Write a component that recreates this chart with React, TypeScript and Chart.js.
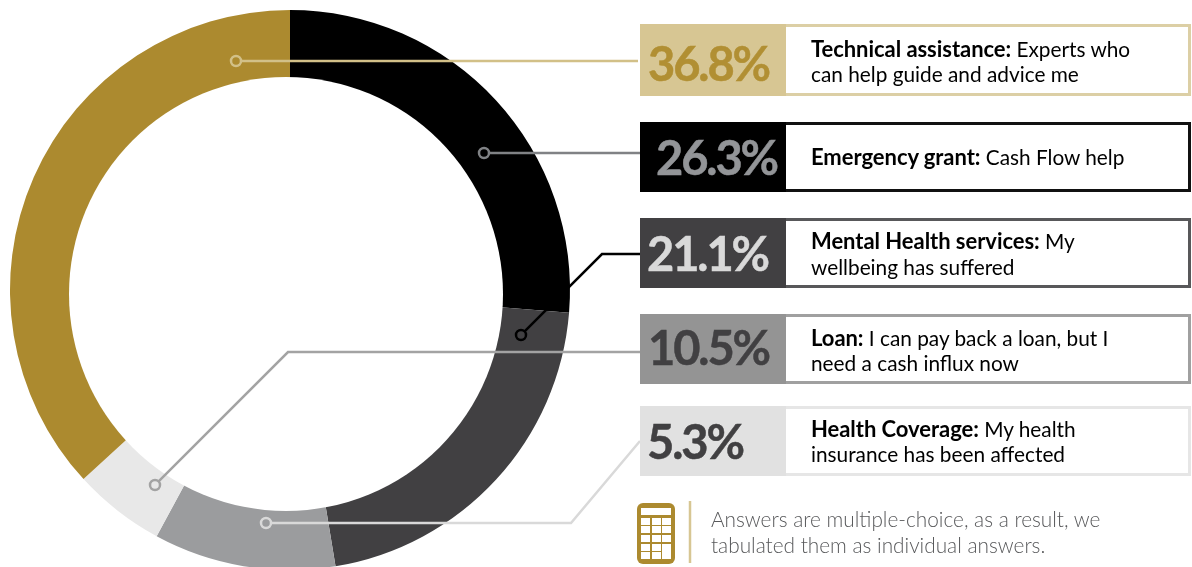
import React, { useEffect, useRef } from "react";
import { Chart, registerables } from "chart.js";

Chart.register(...registerables);

const categories = ["Emergency grant", "Mental Health services", "Loan", "Health Coverage", "Technical assistance"];
const values = [26.3, 21.1, 10.5, 5.3, 36.8];
const sliceColors = ["#000000", "#414042", "#9b9c9e", "#e8e8e8", "#ac8a2f"];

const cards = [
  { pct: "36.8%", bold: "Technical assistance:", rest: ["Experts who", "can help guide and advice me"], fill: "#d7c693", border: "#dccfa5", ink: "#b18f33", top: 24, h: 72, px: 8, pctTop: 33, textDy: 1, gap: 25 },
  { pct: "26.3%", bold: "Emergency grant:", rest: ["Cash Flow help"], fill: "#000000", border: "#111111", ink: "#939598", top: 122, h: 70, px: 16, pctTop: 127, textDy: -1, gap: 25 },
  { pct: "21.1%", bold: "Mental Health services:", rest: ["My", "wellbeing has suffered"], fill: "#414042", border: "#58585a", ink: "#d9d9d9", top: 218, h: 70, px: 7, pctTop: 223, textDy: 1, gap: 26 },
  { pct: "10.5%", bold: "Loan:", rest: ["I can pay back a loan, but I", "need a cash influx now"], fill: "#949494", border: "#a0a0a0", ink: "#414042", top: 314, h: 70, px: 8, pctTop: 317, textDy: 1, gap: 25 },
  { pct: "5.3%", bold: "Health Coverage:", rest: ["My health", "insurance has been affected"], fill: "#e1e1e1", border: "#e6e6e6", ink: "#414042", top: 406, h: 70, px: 7, pctTop: 411, textDy: 0, gap: 25 },
];
const noteLines = ["Answers are multiple-choice, as a result, we", "tabulated them as individual answers."];

const leaders = [
  { color: "#d2c088", pts: [[236, 61], [638, 61]] },
  { color: "#808285", pts: [[484, 153], [640, 153]] },
  { color: "#000000", pts: [[521, 335], [602, 254], [640, 254]] },
  { color: "#a3a3a3", pts: [[155, 485], [288, 352], [640, 352]] },
  { color: "#d9d9d9", pts: [[266, 523], [571, 523], [640, 441]] },
];

const innerDisk = { dx: -4, dy: 4, r: 217 };

const overlay = {
  id: "overlay",
  afterDatasetsDraw(chart: any) {
    const { ctx } = chart;
    const arc = chart.getDatasetMeta(0).data[0];
    ctx.save();
    ctx.fillStyle = "#ffffff";
    ctx.beginPath();
    ctx.arc(arc.x + innerDisk.dx, arc.y + innerDisk.dy, innerDisk.r, 0, Math.PI * 2);
    ctx.fill();

    ctx.lineWidth = 2.5;
    for (const l of leaders) {
      ctx.strokeStyle = l.color;
      const [sx, sy] = l.pts[0];
      const [nx, ny] = l.pts[1];
      const d = Math.hypot(nx - sx, ny - sy);
      ctx.beginPath();
      ctx.moveTo(sx + ((nx - sx) / d) * 5.5, sy + ((ny - sy) / d) * 5.5);
      for (const p of l.pts.slice(1)) ctx.lineTo(p[0], p[1]);
      ctx.stroke();
      ctx.beginPath();
      ctx.arc(sx, sy, 5, 0, Math.PI * 2);
      ctx.stroke();
    }

    // calculator icon and divider
    const gold = "#ac8a2f";
    ctx.fillStyle = gold;
    ctx.beginPath();
    ctx.roundRect(637, 503, 38, 61, 6);
    ctx.fill();
    ctx.fillStyle = "#ffffff";
    ctx.fillRect(641, 508, 30, 7);
    const colsX = [641, 652, 662];
    const colW = [9, 9, 9];
    const rowsY = [518, 526, 535, 544, 552];
    const rowH = [7, 7, 7, 7, 7];
    rowsY.forEach((y, r) => colsX.forEach((x, c) => {
      if (c === 2 && r >= 3) return;
      ctx.fillRect(x, y, colW[c], rowH[r]);
    }));
    ctx.fillRect(colsX[2], rowsY[3], colW[2], 15);
    ctx.strokeStyle = "#d7c693";
    ctx.lineWidth = 2.5;
    ctx.beginPath();
    ctx.moveTo(690, 501);
    ctx.lineTo(690, 563);
    ctx.stroke();
    ctx.restore();
  },
};

export default function App() {
  const ref = useRef<HTMLCanvasElement>(null);
  useEffect(() => {
    document.body.style.margin = "0";
    const chart = new Chart(ref.current!, {
      type: "doughnut",
      data: {
        labels: categories,
        datasets: [{ data: values, backgroundColor: sliceColors, borderWidth: 0 }],
      },
      options: {
        animation: false,
        responsive: false,
        cutout: "50%",
        layout: { padding: { left: 10, top: 10, right: 622, bottom: 0 } },
        plugins: { legend: { display: false }, tooltip: { enabled: false } },
      },
      plugins: [overlay],
    });
    return () => chart.destroy();
  }, []);

  const font = "Lato, sans-serif";
  return (
    <div style={{ position: "fixed", left: 0, top: 0, width: 1192, height: 567, overflow: "hidden", background: "#fff", fontFamily: font }}>
      <canvas ref={ref} width={1192} height={570} style={{ position: "absolute", left: 0, top: 0 }} />
      {cards.map((c) => (
        <div key={c.pct}>
          <div style={{ position: "absolute", left: 640, top: c.top, width: 551, height: c.h, boxSizing: "border-box", border: `3px solid ${c.border}` }} />
          <div style={{ position: "absolute", left: 640, top: c.top, width: 146, height: c.h, background: c.fill }} />
          <div style={{ position: "absolute", left: 640 + c.px, top: c.pctTop, color: c.ink, fontWeight: 700, fontSize: 47, lineHeight: "60px", letterSpacing: -2.1, WebkitTextStroke: `0.5px ${c.ink}`, whiteSpace: "nowrap" }}>{c.pct}</div>
          <div style={{ position: "absolute", left: 811, top: c.top + c.textDy, height: c.h, display: "flex", flexDirection: "column", justifyContent: "center", fontSize: 20.8, lineHeight: `${c.gap}px`, color: "#000", whiteSpace: "nowrap" }}>
            <div><b style={{ fontSize: 22, letterSpacing: -0.05 }}>{c.bold}</b> {c.rest[0]}</div>
            {c.rest[1] && <div>{c.rest[1]}</div>}
          </div>
        </div>
      ))}
      <div style={{ position: "absolute", left: 711, top: 506, fontSize: 20.8, lineHeight: "26px", fontWeight: 300, color: "#58595b", whiteSpace: "nowrap" }}>
        {noteLines.map((n) => <div key={n}>{n}</div>)}
      </div>
    </div>
  );
}
